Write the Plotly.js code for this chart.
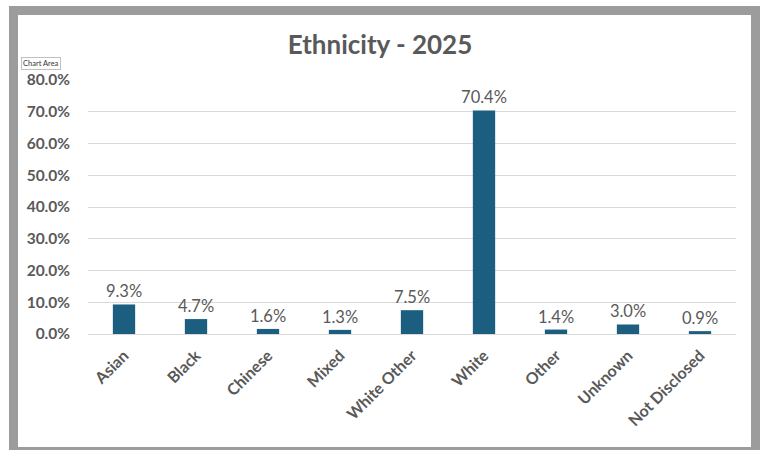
<!DOCTYPE html>
<html>
<head>
<meta charset="utf-8">
<script src="https://cdn.plot.ly/plotly-3.0.1.min.js"></script>
<style>
html,body{margin:0;padding:0;background:#fff;overflow:hidden;}
#chart{position:absolute;left:0;top:0;width:760px;height:450px;}
#frame{position:absolute;left:9px;top:6px;width:751px;height:450px;border:9px solid #9c9c9c;box-sizing:border-box;pointer-events:none;}
</style>
</head>
<body>
<div id="chart"></div>
<div id="frame"></div>
<script>
const categories = ["Asian","Black","Chinese","Mixed","White Other","White","Other","Unknown","Not Disclosed"];
const values = [9.3, 4.7, 1.6, 1.3, 7.5, 70.4, 1.4, 3.0, 0.9];
const yTicks = [0,10,20,30,40,50,60,70,80];
const yTickLabels = ["0.0%","10.0%","20.0%","30.0%","40.0%","50.0%","60.0%","70.0%","80.0%"];

const font = "Lato, 'Open Sans', sans-serif";
const trace = {
  type: "bar",
  x: categories,
  y: values,
  marker: {color: "#1b5e80"},
  text: values.map(v => v.toFixed(1) + "%"),
  textposition: "outside",
  constraintext: "none",
  textfont: {family: font, size: 16.5, color: "#595959"},
  cliponaxis: false,
  hoverinfo: "none"
};
const layout = {
  width: 760, height: 450,
  margin: {l: 88, r: 24, t: 80, b: 116},
  paper_bgcolor: "#ffffff",
  plot_bgcolor: "#ffffff",
  showlegend: false,
  bargap: 0.69,
  title: {text: "<b>Ethnicity - 2025</b>", x: 0.5, xanchor: "center", y: 0.9, yanchor: "middle",
          font: {family: font, size: 26, color: "#595959"}},
  xaxis: {
    type: "category",
    tickangle: -45,
    showgrid: false,
    showline: true, linecolor: "#d9d9d9", linewidth: 1,
    ticks: "",
    ticklabelstandoff: 5,
    tickfont: {family: font, size: 16, color: "#595959", weight: 700}
  },
  yaxis: {
    range: [0, 80],
    tickvals: yTicks,
    ticktext: yTickLabels,
    showgrid: true, gridcolor: "#d9d9d9", gridwidth: 1,
    zeroline: true, zerolinecolor: "#d9d9d9",
    ticks: "",
    ticklabelstandoff: 17,
    tickfont: {family: font, size: 15.5, color: "#595959", weight: 700}
  },
  annotations: [{
    text: "Chart Area", xref: "paper", yref: "paper",
    x: -0.0725, y: 1.066, xanchor: "center", yanchor: "middle",
    showarrow: false, font: {family: font, size: 7.5, color: "#333"},
    bgcolor: "#ffffff", bordercolor: "#c0c0c0", borderwidth: 1, borderpad: 1
  }]
};
Plotly.newPlot("chart", [trace], layout, {displayModeBar: false, staticPlot: true});
</script>
</body>
</html>
